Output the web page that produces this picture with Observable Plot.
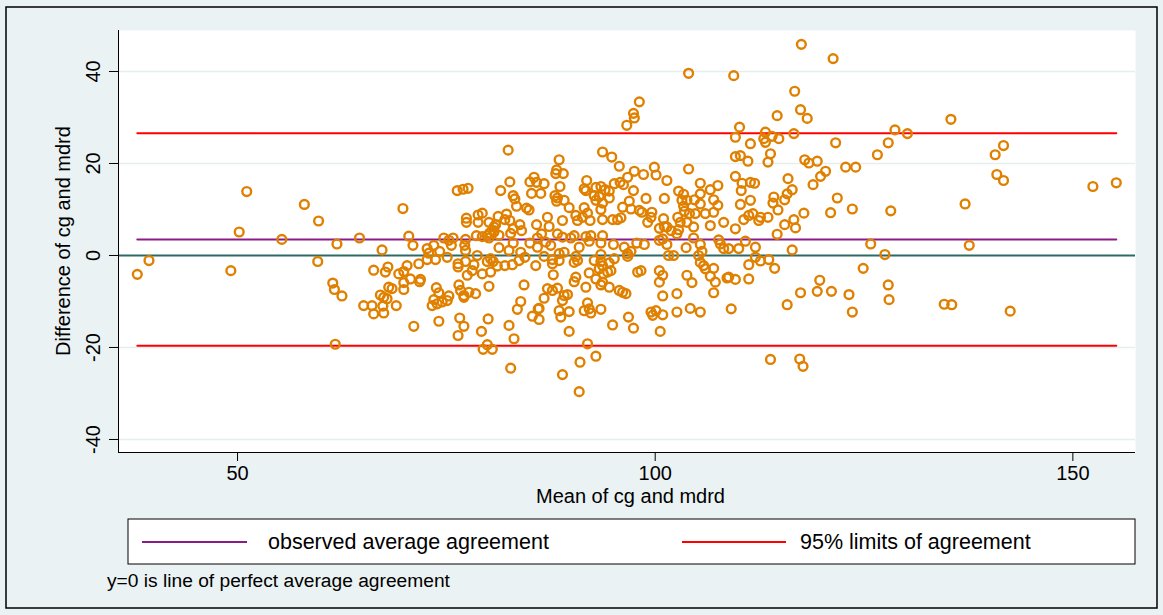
<!DOCTYPE html>
<html><head><meta charset="utf-8">
<script src="https://cdn.jsdelivr.net/npm/d3@7"></script>
<script src="https://cdn.jsdelivr.net/npm/@observablehq/plot@0.6"></script>
<style>body{margin:0;background:#fff;} svg{display:block}</style>
</head><body><div id="chart"></div>
<script>
// Mean of cg and mdrd (x) and Difference of cg and mdrd (y)
const meanVals = [
38.0,39.4,51.1,50.2,49.2,55.3,58.0,59.7,61.9,59.6,61.4,61.6,62.5,61.7,64.6,66.3,65.1,66.1,66.3,67.1,
82.4,69.8,76.3,77.0,77.6,82.6,81.5,85.0,85.5,85.8,85.2,86.3,83.0,83.2,83.4,84.6,84.9,77.4,77.4,78.8,79.3,78.8,80.1,80.7,81.2,82.2,82.6,82.0,80.9,80.7,80.2,83.8,84.0,83.0,82.7,85.8,70.5,71.0,74.7,75.8,75.3,77.3,77.2,77.3,78.6,79.3,79.9,80.1,81.3,80.7,75.6,72.7,73.5,72.9,74.2,81.3,82.5,83.0,83.9,85.0,84.4,75.1,78.7,80.3,67.3,85.9,85.9,
68.0,67.7,69.3,69.9,70.3,70.7,71.7,71.9,71.8,72.7,73.7,76.4,76.4,77.3,78.3,78.1,77.5,79.3,79.9,80.6,80.3,81.1,82.0,82.9,83.7,85.7,68.1,68.5,67.5,67.9,69.9,69.9,69.0,67.4,67.5,73.8,74.1,75.3,73.5,73.3,74.5,75.1,73.9,76.5,76.7,77.1,77.7,78.5,77.1,80.1,84.3,83.9,83.5,85.3,86.1,86.0,71.1,74.1,76.6,77.1,76.4,80.0,79.2,82.5,83.1,79.9,79.4,80.5,82.7,
86.7,88.6,93.7,94.8,95.7,88.5,88.2,88.1,89.0,91.8,91.5,91.7,88.0,88.3,89.1,88.2,89.7,90.5,91.5,91.3,90.7,91.9,92.2,87.1,87.3,86.4,88.9,92.9,93.5,94.0,94.5,92.7,93.3,94.5,92.9,93.7,93.5,93.7,94.9,95.5,95.9,95.1,95.8,96.2,96.7,97.5,98.6,99.9,100.1,101.4,96.9,97.4,98.1,98.9,101.1,96.1,97.1,98.4,99.6,99.5,99.1,101.0,101.1,100.5,101.4,101.9,102.8,103.4,104.0,103.8,103.2,103.4,103.5,104.1,102.7,103.0,103.8,102.8,86.9,87.5,88.3,88.9,89.9,90.3,90.9,91.7,92.1,92.3,93.7,93.5,95.0,96.3,97.1,96.7,97.8,98.7,100.5,100.9,101.4,102.6,103.7,86.7,88.5,89.1,90.5,93.5,96.7,101.6,102.2,
87.7,87.7,88.5,90.3,90.7,92.7,93.5,93.7,94.5,95.1,94.7,94.3,93.8,93.3,87.8,90.5,90.3,91.7,92.1,92.9,93.7,93.5,94.5,95.7,96.1,96.5,97.9,98.3,100.5,100.9,100.5,103.8,87.1,87.7,88.3,86.7,89.1,89.5,88.9,86.1,88.5,88.7,89.7,91.9,91.5,92.3,92.1,93.5,89.7,94.9,96.8,97.4,99.5,100.1,99.7,100.9,102.6,100.6,100.9,102.6,104.2,91.9,92.9,91.0,88.9,90.9,
116.7,117.4,118.2,114.6,110.1,109.6,111.4,113.2,113.0,113.2,114.0,114.8,116.6,121.6,109.6,110.2,111.1,113.5,113.8,117.9,118.4,119.4,120.4,119.8,118.9,109.6,110.4,111.4,111.9,110.3,111.4,110.2,115.9,116.4,115.8,115.5,114.2,114.1,114.7,121.8,121.0,117.8,116.6,116.8,115.5,114.6,116.4,105.4,106.6,107.5,107.0,107.5,105.4,105.4,104.7,104.8,106.0,107.0,108.2,106.6,104.6,109.6,110.6,111.2,111.7,112.6,113.5,112.4,104.6,107.6,107.8,108.2,108.8,110.0,110.8,112.0,105.4,105.6,105.2,112.0,113.6,
105.4,106.0,105.8,107.0,111.2,112.6,114.3,104.4,106.6,107.2,108.6,108.8,109.6,111.2,107.0,105.4,109.1,115.8,117.4,119.4,119.7,121.1,113.8,117.3,117.7,
121.3,122.8,124.0,126.6,127.9,128.7,130.2,135.4,140.7,141.7,140.9,141.7,152.4,155.2,
123.6,128.2,137.1,125.8,137.6,127.5,124.9,127.9,128.0,123.2,123.6,134.6,135.5,142.5,
117.5,104.0,109.4,98.1,97.4,97.5,96.6
];
const diffVals = [
-4.1,-1.1,13.9,5.1,-3.3,3.5,11.1,7.5,2.5,-1.3,-6.0,-7.4,-8.8,-19.3,3.8,-3.2,-10.9,-10.9,-12.7,-8.6,
22.9,10.2,14.1,14.4,14.6,16.0,14.1,16.0,17.0,15.9,13.5,13.5,13.0,12.3,10.7,10.3,9.9,8.1,7.2,8.8,9.2,7.2,7.2,6.2,8.5,9.0,7.6,7.8,6.7,5.4,4.9,6.7,5.4,5.8,4.8,6.7,4.2,2.2,3.8,3.8,3.3,3.5,2.2,1.1,4.3,4.1,4.3,3.8,4.4,5.1,2.2,1.5,2.2,0.5,0.9,1.7,1.1,2.7,0.7,2.7,-0.4,-0.4,0.0,-0.7,1.2,3.8,1.8,
-2.5,-3.6,-4.0,-3.5,-2.2,-5.1,-1.8,-5.2,-5.7,-0.9,-0.9,-1.8,-2.5,-1.3,-2.0,-3.3,-4.3,-4.0,-1.3,-1.3,-3.6,-2.3,-2.2,-2.0,-1.1,-2.2,-6.9,-7.2,-9.1,-9.4,-5.9,-7.4,-10.9,-11.0,-12.5,-7.0,-8.1,-8.8,-9.6,-10.9,-10.1,-9.8,-10.5,-6.4,-7.6,-8.7,-8.0,-8.3,-9.1,-6.7,-6.4,-10.0,-11.7,-13.2,-13.9,-11.6,-15.4,-14.3,-13.6,-15.4,-17.4,-13.8,-16.5,-15.2,-18.1,-19.4,-20.4,-20.4,-24.5,
15.6,15.0,22.5,21.4,19.4,20.8,18.6,17.8,17.8,16.3,14.5,14.1,13.0,12.5,12.0,11.8,10.4,8.7,10.4,8.3,7.6,9.2,7.6,8.3,6.3,4.7,7.6,14.8,15.0,14.3,14.0,13.0,12.8,12.5,12.0,11.4,10.0,7.8,7.8,7.8,8.2,15.6,15.9,15.4,17.0,18.3,17.6,19.2,17.5,16.3,11.8,14.1,9.8,12.4,12.4,10.5,10.1,9.4,9.4,8.3,7.2,8.0,6.3,5.9,6.2,5.4,14.0,13.3,18.8,12.0,12.0,10.7,9.6,9.1,8.3,7.2,7.2,5.6,2.9,2.2,4.7,4.0,3.8,4.3,1.8,4.1,3.1,4.3,4.3,2.7,2.4,1.8,0.9,0.4,2.7,2.4,3.3,3.6,2.4,4.7,1.7,-0.2,0.4,0.7,-0.2,0.2,-0.2,0.0,0.0,
-0.9,-1.8,-1.1,-1.5,-1.1,-1.1,-1.3,-2.2,-1.6,-0.7,-3.3,-3.6,-4.0,-2.9,-4.2,-4.7,-5.7,-6.9,-3.8,-5.1,-5.8,-6.4,-6.9,-7.6,-8.0,-8.3,-3.6,-3.3,-3.3,-4.3,-5.8,-4.3,-7.2,-7.6,-7.1,-9.3,-8.7,-8.5,-9.8,-11.5,-12.0,-13.4,-12.2,-10.3,-12.0,-12.5,-11.6,-11.7,-16.5,-15.1,-13.4,-15.8,-12.3,-12.0,-13.0,-12.9,-12.3,-16.5,-8.8,-8.3,-11.5,-19.2,-21.9,-23.2,-25.9,-29.6,
35.7,31.7,29.8,30.4,27.9,25.7,24.3,26.8,25.4,24.6,25.9,25.4,26.5,24.5,21.5,21.7,20.5,20.3,22.1,20.8,20.1,20.5,18.3,17.2,15.4,17.2,15.7,15.9,15.7,14.1,12.0,11.1,16.7,14.3,13.4,12.1,12.7,11.4,9.9,12.5,9.3,9.2,7.8,6.0,6.7,4.6,1.2,15.7,14.3,15.2,12.1,10.9,13.4,11.2,12.1,9.1,9.1,9.4,7.2,6.5,6.2,5.8,7.8,8.7,9.1,8.3,8.3,7.6,3.8,3.4,2.5,1.5,1.5,1.5,3.1,1.8,2.4,0.9,0.0,-0.4,-0.9,
-1.5,-2.9,-2.2,-2.8,-2.0,-1.2,-2.8,-5.9,-4.5,-5.8,-4.9,-4.7,-5.2,-5.1,-8.1,-12.3,-11.6,-10.7,-8.1,-7.8,-5.4,-7.8,-22.6,-22.5,-24.1,
42.8,19.2,19.2,21.9,24.5,27.3,26.5,29.6,21.9,23.9,17.6,16.3,15.0,15.8,
10.1,9.7,11.2,2.5,2.2,0.2,-2.8,-6.4,-9.6,-8.5,-12.3,-10.6,-10.7,-12.1,
45.9,39.6,39.1,33.4,30.9,29.9,28.3
];
const xTicks = [50, 100, 150];
const yTicks = [-40, -20, 0, 20, 40];
const meanDiff = 3.5;
const limitsOfAgreement = [-19.6, 26.6];
const legendLabels = ["observed average agreement", "95% limits of agreement"];
const xTitle = "Mean of cg and mdrd";
const yTitle = "Difference of cg and mdrd";
const noteText = "y=0 is line of perfect average agreement";

const data = meanVals.map((x, i) => ({x, y: diffVals[i]}));
const xmin = d3.min(meanVals), xmax = d3.max(meanVals);
const W = 1163, H = 615, L = 118, R = 1135, T = 30, B = 452;
const xDomain = [35.75, 157.5], yDomain = [-42.83, 48.91];
const FONT = "'Liberation Sans', Arial, Helvetica, sans-serif";
const cPurple = "#8A1C88", cRed = "#FF0000", cZero = "#2E6A66", cDot = "#E08000", cGrid = "#E6EEF0";
const fmt = d => String(d);

const plot = Plot.plot({
  width: W, height: H,
  marginLeft: L, marginRight: W - R, marginTop: T, marginBottom: H - B,
  style: {background: "#EAF2F3", fontFamily: FONT, overflow: "visible", color: "black"},
  x: {domain: xDomain},
  y: {domain: yDomain},
  marks: [
    Plot.frame({fill: "white", stroke: null}),
    Plot.ruleY(yTicks.filter(d => d !== 0), {stroke: cGrid, strokeWidth: 1.5}),
    Plot.ruleY([0], {stroke: cZero, strokeWidth: 2}),
    Plot.line([{x: xmin, y: meanDiff}, {x: xmax, y: meanDiff}], {x: "x", y: "y", stroke: cPurple, strokeWidth: 2}),
    ...limitsOfAgreement.map(v => Plot.line([{x: xmin, y: v}, {x: xmax, y: v}], {x: "x", y: "y", stroke: cRed, strokeWidth: 2})),
    Plot.dot(data, {x: "x", y: "y", r: 4.4, stroke: cDot, strokeWidth: 2.4, fill: "none"}),
    Plot.ruleX([xDomain[0]], {stroke: "black", strokeWidth: 1}),
    Plot.ruleY([yDomain[0]], {stroke: "black", strokeWidth: 1}),
    Plot.axisX(xTicks, {tickSize: 9, tickPadding: 4, fontSize: 20, label: null, tickFormat: fmt}),
    Plot.axisY(yTicks, {tickSize: 9, tickRotate: -90, tickPadding: 10, fontSize: 20, label: null, tickFormat: fmt})
  ]
});
document.getElementById("chart").appendChild(plot);

const svg = d3.select(plot);
const addText = (x, y, size, str, anchor) => svg.append("text").attr("x", x).attr("y", y)
  .attr("text-anchor", anchor).attr("font-size", size).attr("font-family", FONT).attr("fill", "black").text(str);
svg.append("rect").attr("x", 6).attr("y", 7).attr("width", 1151).attr("height", 601)
  .attr("fill", "none").attr("stroke", "black").attr("stroke-width", 1.5);
svg.append("text").attr("transform", "translate(70,241) rotate(-90)").attr("text-anchor", "middle")
  .attr("font-size", 20).attr("font-family", FONT).attr("fill", "black").text(yTitle);
addText((L + R) / 2 + 4, 503, 20, xTitle, "middle");
svg.append("rect").attr("x", 128).attr("y", 519).attr("width", 1007).attr("height", 45)
  .attr("fill", "white").attr("stroke", "black").attr("stroke-width", 1);
const legendItems = [
  {label: legendLabels[0], color: cPurple, x0: 142, x1: 247, tx: 268},
  {label: legendLabels[1], color: cRed, x0: 682, x1: 786, tx: 800}
];
legendItems.forEach(it => {
  svg.append("line").attr("x1", it.x0).attr("x2", it.x1).attr("y1", 542).attr("y2", 542)
    .attr("stroke", it.color).attr("stroke-width", 2);
  addText(it.tx, 549, 21.5, it.label, "start");
});
addText(107, 587, 19.2, noteText, "start");
</script></body></html>
